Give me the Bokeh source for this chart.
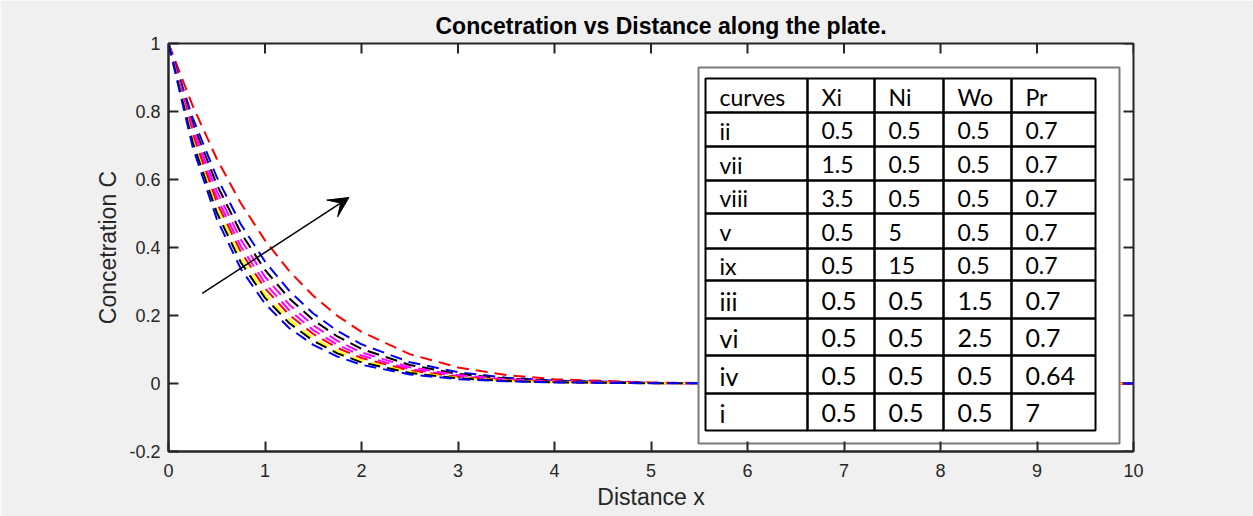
from bokeh.plotting import figure
from bokeh.models import Range1d, FixedTicker, Arrow, VeeHead, ColumnDataSource
from bokeh.core.properties import value
from bokeh.embed import file_html
from bokeh.resources import INLINE

# ---------------- data ----------------
x_vals = [0, 0.25, 0.5, 0.75, 1, 1.25, 1.5, 1.75, 2, 2.5, 3, 3.5, 4, 5, 6, 8, 10]
c_blue_1 = [1, 0.696, 0.484, 0.337, 0.2346, 0.1632, 0.1136, 0.0791, 0.0550, 0.0267, 0.0129, 0.00625, 0.00303, 0.00071, 0.00017, 0.00001, 0]
c_black_1 = [1, 0.710, 0.503, 0.356, 0.252, 0.178, 0.1256, 0.0885, 0.0623, 0.0308, 0.0151, 0.0074, 0.0036, 0.00085, 0.0002, 0.00001, 0]
c_yellow = [1, 0.718, 0.515, 0.369, 0.263, 0.188, 0.1335, 0.0948, 0.0672, 0.0336, 0.0167, 0.0082, 0.0040, 0.00094, 0.00021, 0.00001, 0]
c_red_1 = [1, 0.731, 0.532, 0.387, 0.280, 0.202, 0.1456, 0.1046, 0.0749, 0.0380, 0.0191, 0.0095, 0.0047, 0.0011, 0.00024, 0.00001, 0]
c_magenta_1 = [1, 0.741, 0.547, 0.403, 0.295, 0.216, 0.157, 0.1137, 0.0821, 0.0423, 0.0215, 0.0108, 0.0053, 0.0012, 0.00027, 0.00001, 0]
c_magenta_2 = [1, 0.754, 0.566, 0.423, 0.314, 0.2325, 0.171, 0.1254, 0.0914, 0.0479, 0.0247, 0.0125, 0.0062, 0.0014, 0.0003, 0.00001, 0]
c_black_2 = [1, 0.767, 0.585, 0.443, 0.334, 0.2505, 0.1867, 0.1383, 0.1019, 0.0543, 0.0283, 0.0144, 0.0072, 0.0017, 0.00035, 0.00001, 0]
c_blue_2 = [1, 0.782, 0.607, 0.468, 0.359, 0.273, 0.206, 0.1548, 0.1153, 0.0627, 0.0332, 0.0171, 0.0086, 0.0020, 0.0004, 0.00001, 0]
c_red_2 = [1, 0.817, 0.661, 0.530, 0.421, 0.331, 0.258, 0.199, 0.152, 0.0863, 0.0472, 0.0248, 0.0126, 0.0029, 0.00057, 0.00002, 0]

x_ticks = [0, 1, 2, 3, 4, 5, 6, 7, 8, 9, 10]
y_ticks = [-0.2, 0, 0.2, 0.4, 0.6, 0.8, 1]
y_tick_labels = ["-0.2", "0", "0.2", "0.4", "0.6", "0.8", "1"]

table_header = ["curves", "Xi", "Ni", "Wo", "Pr"]
table_curves = ["ii", "vii", "viii", "v", "ix", "iii", "vi", "iv", "i"]
table_xi = ["0.5", "1.5", "3.5", "0.5", "0.5", "0.5", "0.5", "0.5", "0.5"]
table_ni = ["0.5", "0.5", "0.5", "5", "15", "0.5", "0.5", "0.5", "0.5"]
table_wo = ["0.5", "0.5", "0.5", "0.5", "0.5", "1.5", "2.5", "0.5", "0.5"]
table_pr = ["0.7", "0.7", "0.7", "0.7", "0.7", "0.7", "0.7", "0.64", "7"]

title_text = "Concetration vs Distance along the plate."
x_label = "Distance x"
y_label = "Concetration C"

# ---------------- layout (pixels) ----------------
W, H = 1253, 516
FL, FR, FT, FB = 168, 1133, 43, 451   # frame edges in page pixels
X_MIN, X_MAX, Y_MIN, Y_MAX = 0, 10, -0.2, 1
TICK_PX = 10


def px_x(px):
    return X_MIN + (px - FL) / (FR - FL) * (X_MAX - X_MIN)


def px_y(py):
    return Y_MIN + (FB - py) / (FB - FT) * (Y_MAX - Y_MIN)


DX = TICK_PX / (FR - FL) * (X_MAX - X_MIN)
DY = TICK_PX / (FB - FT) * (Y_MAX - Y_MIN)

TXT = "#262626"
FONT = "Liberation Sans"

p = figure(width=W, height=H, x_range=Range1d(X_MIN, X_MAX), y_range=Range1d(Y_MIN, Y_MAX),
           output_backend="svg", toolbar_location=None,
           min_border_left=FL, min_border_right=W - FR, min_border_top=FT, min_border_bottom=H - FB,
           background_fill_color="white", border_fill_color="#f0f0f0",
           title=title_text)
p.outline_line_color = TXT
p.outline_line_width = 2
p.xgrid.visible = False
p.ygrid.visible = False

p.title.text_font = FONT
p.title.text_font_size = "23px"
p.title.text_font_style = "bold"
p.title.text_color = "black"
p.title.align = "left"
p.title.offset = 435 - FL
p.title.standoff = 10

for ax in (p.xaxis[0], p.yaxis[0]):
    ax.axis_line_color = TXT
    ax.axis_line_width = 2
    ax.major_tick_in = TICK_PX
    ax.major_tick_out = 0
    ax.major_tick_line_color = TXT
    ax.major_tick_line_width = 2
    ax.minor_tick_line_color = None
    ax.major_label_text_font = FONT
    ax.major_label_text_font_size = "18px"
    ax.major_label_text_color = TXT
    ax.axis_label_text_font = FONT
    ax.axis_label_text_font_size = "23px"
    ax.axis_label_text_font_style = "normal"
    ax.axis_label_text_color = TXT

p.xaxis[0].ticker = FixedTicker(ticks=x_ticks)
p.yaxis[0].ticker = FixedTicker(ticks=y_ticks)
p.yaxis[0].major_label_overrides = {t: s for t, s in zip(y_ticks, y_tick_labels)}
p.xaxis[0].axis_label = x_label
p.yaxis[0].axis_label = y_label
p.xaxis[0].major_label_standoff = 12
p.yaxis[0].major_label_standoff = 8
p.xaxis[0].axis_label_standoff = 4
p.yaxis[0].axis_label_standoff = 5

# ticks on the top and right edges of the box (MATLAB style)
p.segment(x0=x_ticks, y0=[Y_MAX] * len(x_ticks), x1=x_ticks, y1=[Y_MAX - DY] * len(x_ticks),
          line_color=TXT, line_width=2)
p.segment(x0=[X_MAX] * len(y_ticks), y0=y_ticks, x1=[X_MAX - DX] * len(y_ticks), y1=y_ticks,
          line_color=TXT, line_width=2)

# ---------------- curves ----------------
series = [
    (c_red_2, "#ff0000"),
    (c_blue_2, "#0000ff"),
    (c_black_2, "#000000"),
    (c_magenta_2, "#ff00ff"),
    (c_magenta_1, "#ff00ff"),
    (c_red_1, "#ff0000"),
    (c_yellow, "#ffff00"),
    (c_black_1, "#000000"),
    (c_blue_1, "#0000ff"),
]
for ys, col in series:
    p.line(x_vals, ys, line_color=col, line_width=2, line_dash="12 7")

# arrow
p.add_layout(Arrow(end=VeeHead(size=20, fill_color="black", line_color="black"),
                   x_start=0.35, y_start=0.265, x_end=1.87, y_end=0.547,
                   line_color="black", line_width=1.5))

# ---------------- table ----------------
box_l, box_r, box_t, box_b = 698, 1119, 67, 443
p.quad(left=[px_x(box_l)], right=[px_x(box_r)], top=[px_y(box_t)], bottom=[px_y(box_b)],
       fill_color="white", line_color="#7a7a7a", line_width=2)

col_edges = [705, 807, 874, 943, 1011, 1095]
row_edges = [78, 112, 146, 180, 213, 248, 280, 318, 355, 393, 430]

lefts, rights, tops, bottoms = [], [], [], []
for r in range(len(row_edges) - 1):
    for c in range(len(col_edges) - 1):
        lefts.append(px_x(col_edges[c]))
        rights.append(px_x(col_edges[c + 1]))
        tops.append(px_y(row_edges[r]))
        bottoms.append(px_y(row_edges[r + 1]))
p.quad(left=lefts, right=rights, top=tops, bottom=bottoms,
       fill_color=None, line_color="black", line_width=2)

rows = [table_header] + [list(t) for t in zip(table_curves, table_xi, table_ni, table_wo, table_pr)]
tx, ty, tt, ts = [], [], [], []
for r, row in enumerate(rows):
    size = "23px" if r <= 5 else "25px"
    yc = px_y((row_edges[r] + row_edges[r + 1]) / 2 + 1)
    for c, s in enumerate(row):
        tx.append(px_x(col_edges[c] + 14))
        ty.append(yc)
        tt.append(s)
        ts.append(size)
src = ColumnDataSource(dict(x=tx, y=ty, text=tt, size=ts))
p.text(x="x", y="y", text="text", source=src, text_font=value("Lato"), text_font_size="size",
       text_baseline="middle", text_align="left", text_color="black")

open("out.html", "w").write(file_html(p, INLINE))
